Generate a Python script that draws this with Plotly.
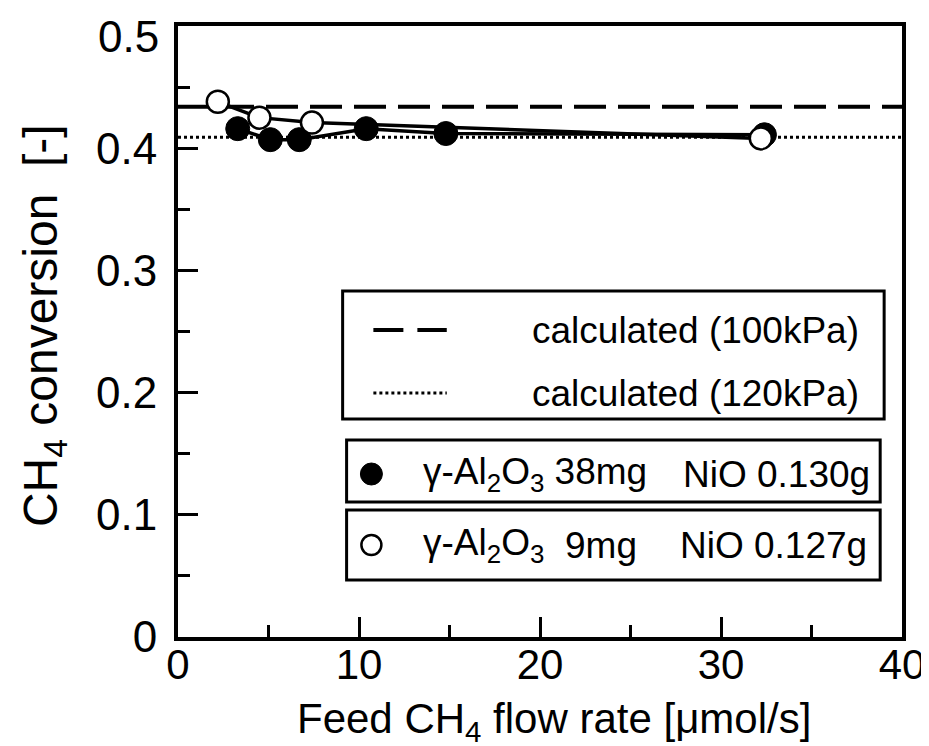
import plotly.graph_objects as go

# ---- data ----
filled_x = [3.3, 5.1, 6.7, 10.4, 14.8, 32.4]
filled_y = [0.416, 0.407, 0.407, 0.416, 0.412, 0.411]
open_x = [2.2, 4.5, 7.4, 32.2]
open_y = [0.438, 0.425, 0.421, 0.408]
calc_x = [0, 40]
calc_100kPa = [0.434, 0.434]
calc_120kPa = [0.409, 0.409]
x_ticks = [0, 10, 20, 30, 40]
y_ticks = [0, 0.1, 0.2, 0.3, 0.4, 0.5]
y_ticktext = ["0", "0.1", "0.2", "0.3", "0.4", ""]
y_top_label = "0.5"

FONT = "Liberation Sans, Arial, sans-serif"
W, H = 929, 746
L, R, T, B = 170, 29, 18, 117
PW, PH = W - L - R, H - T - B


def px(x):
    return (x - L) / PW


def py(y):
    return (H - B - y) / PH


fig = go.Figure()
fig.add_trace(go.Scatter(x=calc_x, y=calc_100kPa, mode="lines",
                         line=dict(color="black", width=4, dash="32px,12px"),
                         showlegend=False, hoverinfo="skip"))
fig.add_trace(go.Scatter(x=calc_x, y=calc_120kPa, mode="lines",
                         line=dict(color="black", width=3, dash="3px,3px"),
                         showlegend=False, hoverinfo="skip"))
fig.add_trace(go.Scatter(x=filled_x, y=filled_y, mode="lines+markers",
                         line=dict(color="black", width=3.5),
                         marker=dict(size=24, color="black", symbol="circle",
                                     line=dict(color="black", width=1)),
                         showlegend=False))
fig.add_trace(go.Scatter(x=open_x, y=open_y, mode="lines+markers",
                         line=dict(color="black", width=3.5),
                         marker=dict(size=22, color="white", symbol="circle",
                                     line=dict(color="black", width=2.5)),
                         showlegend=False))

shapes = []
annotations = []
# legend boxes
for (x0, y0, x1, y1) in [(336, 283, 882, 411), (340, 432, 878, 494), (340, 502, 878, 572)]:
    shapes.append(dict(type="rect", xref="paper", yref="paper",
                       x0=px(x0), x1=px(x1), y0=py(y1), y1=py(y0),
                       line=dict(color="black", width=3), fillcolor="rgba(0,0,0,0)"))
# line samples
shapes.append(dict(type="line", xref="paper", yref="paper", x0=px(367), x1=px(441),
                   y0=py(322), y1=py(322), line=dict(color="black", width=4, dash="30px,14px")))
shapes.append(dict(type="line", xref="paper", yref="paper", x0=px(367), x1=px(441),
                   y0=py(385), y1=py(385), line=dict(color="black", width=3, dash="3px,3px")))
# marker samples
shapes.append(dict(type="circle", xref="paper", yref="paper", xsizemode="pixel", ysizemode="pixel",
                   xanchor=px(365), yanchor=py(466), x0=-11, x1=11, y0=-11, y1=11,
                   fillcolor="black", line=dict(color="black", width=1)))
shapes.append(dict(type="circle", xref="paper", yref="paper", xsizemode="pixel", ysizemode="pixel",
                   xanchor=px(365), yanchor=py(537), x0=-10, x1=10, y0=-10, y1=10,
                   fillcolor="white", line=dict(color="black", width=2.5)))

LF = 37


def txt(x, y, s, size=LF, xanchor="left", **kw):
    annotations.append(dict(xref="paper", yref="paper", x=px(x), y=py(y), text=s,
                            showarrow=False, xanchor=xanchor, yanchor="middle",
                            font=dict(family=FONT, size=size, color="black"), **kw))


txt(525, 322, "calculated (100kPa)")
txt(525, 385, "calculated (120kPa)")
txt(415, 466, "γ-Al<sub>2</sub>O<sub>3</sub> 38mg")
txt(677, 466, "NiO 0.130g")
txt(415, 537, "γ-Al<sub>2</sub>O<sub>3</sub>")
txt(558, 537, "9mg")
txt(674, 537, "NiO 0.127g")
# top y tick label (placed just inside the figure like the reference)
txt(153, 28, y_top_label, size=44, xanchor="right")
# axis titles
txt(549, 713, "Feed CH<sub>4</sub> flow rate [μmol/s]", size=42, xanchor="center")
annotations.append(dict(xref="paper", yref="paper", x=px(35), y=py(318),
                        text="CH<sub>4</sub> conversion\u00a0\u00a0[-]", textangle=-90,
                        showarrow=False, xanchor="center", yanchor="middle",
                        font=dict(family=FONT, size=48, color="black")))

fig.update_layout(
    width=W, height=H,
    margin=dict(l=L, r=R, t=T, b=B),
    paper_bgcolor="white", plot_bgcolor="white",
    font=dict(family=FONT, color="black"),
    shapes=shapes, annotations=annotations,
    xaxis=dict(range=[0, 40], tickvals=x_ticks, ticks="inside", ticklen=20, tickwidth=3,
               tickcolor="black", showline=True, linewidth=4, linecolor="black", mirror=True,
               showgrid=False, zeroline=False, tickfont=dict(family=FONT, size=42),
               ticklabelstandoff=-12, ticklabeloverflow="allow",
               minor=dict(ticks="inside", ticklen=12, tickwidth=3, dtick=5, tickcolor="black",
                          showgrid=False)),
    yaxis=dict(range=[0, 0.5], tickvals=y_ticks, ticktext=y_ticktext, ticks="inside",
               ticklen=20, tickwidth=3, tickcolor="black", showline=True, linewidth=4,
               linecolor="black", mirror=True, showgrid=False, zeroline=False,
               tickfont=dict(family=FONT, size=44), ticklabelstandoff=8,
               ticklabeloverflow="allow",
               minor=dict(ticks="inside", ticklen=12, tickwidth=3, dtick=0.05, tickcolor="black",
                          showgrid=False)),
)

fig.write_html("out.html")
